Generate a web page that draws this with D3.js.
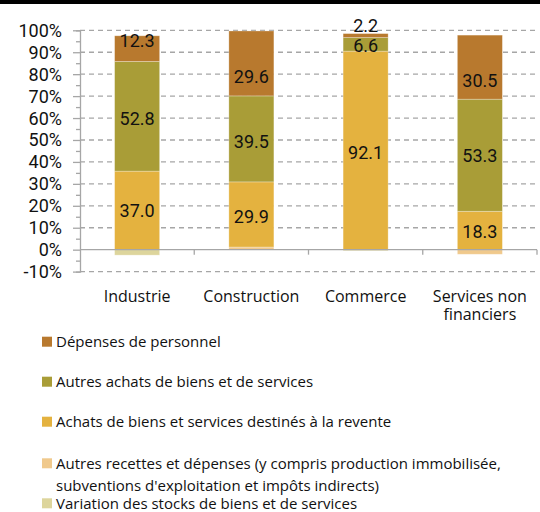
<!DOCTYPE html>
<html>
<head>
<meta charset="utf-8">
<script src="https://cdn.jsdelivr.net/npm/d3@7"></script>
<style>
  body { margin: 0; background: #fff; }
  svg { display: block; }
</style>
</head>
<body>
<div id="graphe"></div>
<script>
// categories et series
var categories = ["Industrie", "Construction", "Commerce", "Services non financiers"];
var seriesNames = [
    "Dépenses de personnel",
    "Autres achats de biens et de services",
    "Achats de biens et services destinés à la revente",
    "Autres recettes et dépenses (y compris production immobilisée, subventions d'exploitation et impôts indirects)",
    "Variation des stocks de biens et de services"
];
var personnel = [11.7, 29.6, 1.8, 29.2];
var autresAchats = [50.0, 39.2, 6.2, 51.1];
var achatsRevente = [35.8, 29.7, 90.5, 17.5];
var autresRecettes = [0, 1.2, 0, -2.1];
var variationStocks = [-2.5, 0, -0.5, 0];

// etiquettes affichees sur les barres
var labelsPersonnel = ["12.3", "29.6", "2.2", "30.5"];
var labelsAutresAchats = ["52.8", "39.5", "6.6", "53.3"];
var labelsRevente = ["37.0", "29.9", "92.1", "18.3"];

var yTicks = [-10, 0, 10, 20, 30, 40, 50, 60, 70, 80, 90, 100];

var colors = ["#b8792e", "#a99d37", "#e4b23f", "#f0c98c", "#ddd59c"];

var width = 540, height = 512;
var svg = d3.select("#graphe").append("svg")
    .attr("width", width)
    .attr("height", height);

// bande noire en haut
svg.append("rect").attr("x", 0).attr("y", 0).attr("width", width).attr("height", 4).attr("fill", "#000");

var x = d3.scaleBand().domain(categories).range([80, 537]).paddingInner(0.606).paddingOuter(0.303);
var y = d3.scaleLinear().domain([-10, 100]).range([271.6, 30.3]);

// grille
svg.append("g").selectAll("line")
    .data(yTicks.filter(function(d) { return d !== 0; }))
    .enter().append("line")
    .attr("x1", 80).attr("x2", 537)
    .attr("y1", function(d) { return y(d); })
    .attr("y2", function(d) { return y(d); })
    .attr("stroke", "#a6a6a6")
    .attr("stroke-width", 1.3)
    .attr("stroke-dasharray", "5,4");

// axe y
var yAxis = d3.axisLeft(y).tickValues(d3.range(-10, 101, 5)).tickSize(4).tickFormat("");
var gy = svg.append("g").attr("transform", "translate(80,0)").call(yAxis);
gy.select(".domain").attr("stroke", "#a6a6a6").attr("stroke-width", 1.3);
gy.selectAll(".tick line").attr("stroke", "#a6a6a6").attr("stroke-width", 1.3)
    .attr("x2", function(d) { return d % 10 === 0 ? -7 : -4; });

svg.append("g").selectAll("text")
    .data(yTicks)
    .enter().append("text")
    .attr("x", 62)
    .attr("y", function(d) { return y(d); })
    .attr("dy", "0.36em")
    .attr("text-anchor", "end")
    .attr("font-family", "Roboto")
    .attr("font-size", 18)
    .attr("fill", "#111")
    .text(function(d) { return d + "%"; });

// barres empilees
var series = [personnel, autresAchats, achatsRevente, autresRecettes, variationStocks];
var rows = categories.map(function(c, i) {
    var r = { cat: c };
    series.forEach(function(s, k) { r["s" + k] = s[i]; });
    return r;
});
var stack = d3.stack()
    .keys(["s4", "s3", "s2", "s1", "s0"])
    .offset(d3.stackOffsetDiverging);
var stacked = stack(rows);

var keyColor = { s0: colors[0], s1: colors[1], s2: colors[2], s3: colors[3], s4: colors[4] };
svg.append("g").selectAll("g")
    .data(stacked)
    .enter().append("g")
    .attr("fill", function(d) { return keyColor[d.key]; })
    .selectAll("rect")
    .data(function(d) { return d; })
    .enter().append("rect")
    .attr("x", function(d) { return x(d.data.cat); })
    .attr("width", x.bandwidth())
    .attr("y", function(d) { return y(Math.max(d[0], d[1])); })
    .attr("height", function(d) { return Math.abs(y(d[0]) - y(d[1])); })
    .attr("stroke", "rgba(255,255,255,0.35)")
    .attr("stroke-width", 0.8);

// ligne du zero et graduations des categories
svg.append("line").attr("x1", 80).attr("x2", 537).attr("y1", y(0)).attr("y2", y(0))
    .attr("stroke", "#a6a6a6").attr("stroke-width", 1.3);
svg.append("g").selectAll("line")
    .data(categories)
    .enter().append("line")
    .attr("x1", function(d) { return x(d) - x.step() * x.paddingInner() / 2 + x.step(); })
    .attr("x2", function(d) { return x(d) - x.step() * x.paddingInner() / 2 + x.step(); })
    .attr("y1", y(0)).attr("y2", y(0) + 5)
    .attr("stroke", "#a6a6a6").attr("stroke-width", 1.3);

// etiquettes des valeurs
var labelSets = [
    { key: "s0", labels: labelsPersonnel, nudge: [-8, 13, -10, 13] },
    { key: "s1", labels: labelsAutresAchats, nudge: [2, 3, 1, 0] },
    { key: "s2", labels: labelsRevente, nudge: [0, 2, 2, 1] }
];
labelSets.forEach(function(ls) {
    var layer = stacked.filter(function(s) { return s.key === ls.key; })[0];
    svg.append("g").selectAll("text")
        .data(layer)
        .enter().append("text")
        .attr("x", function(d) { return x(d.data.cat) + x.bandwidth() / 2; })
        .attr("y", function(d, i) { return (y(d[0]) + y(d[1])) / 2 + ls.nudge[i]; })
        .attr("dy", "0.36em")
        .attr("text-anchor", "middle")
        .attr("font-family", "Roboto")
        .attr("font-size", 18)
        .attr("fill", "#111")
        .text(function(d, i) { return ls.labels[i]; });
});

// libelles des categories
var catLines = { "Services non financiers": ["Services non", "financiers"] };
categories.forEach(function(c) {
    var lines = catLines[c] || [c];
    var t = svg.append("text")
        .attr("x", x(c) + x.bandwidth() / 2)
        .attr("y", 302)
        .attr("text-anchor", "middle")
        .attr("font-family", "Open Sans")
        .attr("font-size", 16)
        .attr("fill", "#111");
    lines.forEach(function(l, i) {
        t.append("tspan").attr("x", x(c) + x.bandwidth() / 2).attr("dy", i === 0 ? 0 : 18).text(l);
    });
});

// legende
var legendY = [341.7, 381.7, 421.7, 463.3, 503.3];
var legendLines = [
    [seriesNames[0]],
    [seriesNames[1]],
    [seriesNames[2]],
    ["Autres recettes et dépenses (y compris production immobilisée,", "subventions d'exploitation et impôts indirects)"],
    [seriesNames[4]]
];
legendLines.forEach(function(lines, i) {
    svg.append("rect")
        .attr("x", 42).attr("y", legendY[i] - 5)
        .attr("width", 10).attr("height", 10)
        .attr("fill", colors[i]);
    var t = svg.append("text")
        .attr("x", 56)
        .attr("y", legendY[i])
        .attr("font-family", "Open Sans")
        .attr("font-size", 15)
        .attr("fill", "#111");
    lines.forEach(function(l, j) {
        t.append("tspan").attr("x", 56).attr("dy", j === 0 ? "0.36em" : 22).text(l);
    });
});
</script>
</body>
</html>
